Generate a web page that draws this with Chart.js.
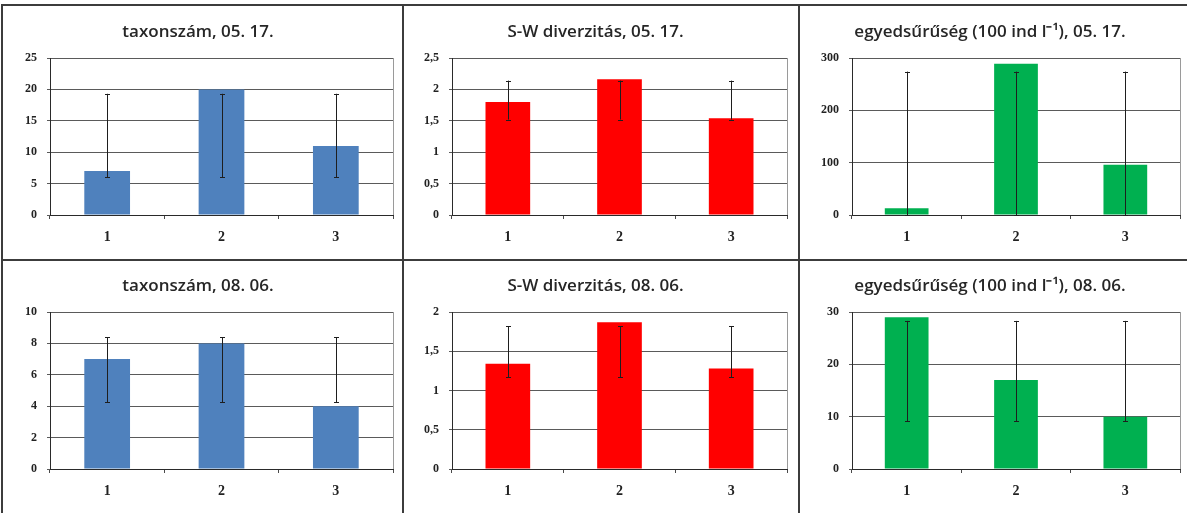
<!DOCTYPE html>
<html>
<head>
<meta charset="utf-8">
<script src="https://cdn.jsdelivr.net/npm/chart.js@4.4.1/dist/chart.umd.min.js"></script>
<style>
  html, body { margin: 0; padding: 0; background: #fff; }
  #page { position: relative; width: 1187px; height: 513px; overflow: hidden; }
  .cell { position: absolute; }
  .line { position: absolute; background: #3c3c3c; }
</style>
</head>
<body>
<div id="page">
  <canvas id="c1" class="cell" width="399" height="253" style="left:3px;top:6px"></canvas>
  <canvas id="c2" class="cell" width="394" height="253" style="left:404px;top:6px"></canvas>
  <canvas id="c3" class="cell" width="387" height="253" style="left:800px;top:6px"></canvas>
  <canvas id="c4" class="cell" width="399" height="252" style="left:3px;top:261px"></canvas>
  <canvas id="c5" class="cell" width="394" height="252" style="left:404px;top:261px"></canvas>
  <canvas id="c6" class="cell" width="387" height="252" style="left:800px;top:261px"></canvas>

  <!-- table frame -->
  <div class="line" style="left:1px;top:4px;width:1186px;height:2px"></div>
  <div class="line" style="left:1px;top:4px;width:2px;height:509px"></div>
  <div class="line" style="left:402px;top:4px;width:2px;height:509px"></div>
  <div class="line" style="left:798px;top:4px;width:2px;height:509px"></div>
  <div class="line" style="left:1px;top:259px;width:1186px;height:2px"></div>
</div>

<script>
const categories = ["1", "2", "3"];

// taxonszám
const taxon0517 = [7, 20, 11];
const taxon0517Low = [6.0, 6.0, 6.0];
const taxon0517High = [19.3, 19.3, 19.3];
const taxon0517Ticks = ["0", "5", "10", "15", "20", "25"];

const taxon0806 = [7, 8, 4];
const taxon0806Low = [4.25, 4.25, 4.25];
const taxon0806High = [8.4, 8.4, 8.4];
const taxon0806Ticks = ["0", "2", "4", "6", "8", "10"];

// S-W diverzitás
const sw0517 = [1.8, 2.16, 1.54];
const sw0517Low = [1.52, 1.52, 1.52];
const sw0517High = [2.14, 2.14, 2.14];
const sw0517Ticks = ["0", "0,5", "1", "1,5", "2", "2,5"];

const sw0806 = [1.34, 1.87, 1.28];
const sw0806Low = [1.17, 1.17, 1.17];
const sw0806High = [1.82, 1.82, 1.82];
const sw0806Ticks = ["0", "0,5", "1", "1,5", "2"];

// egyedsűrűség
const dens0517 = [13, 289, 96];
const dens0517Low = [0, 0, 0];
const dens0517High = [274, 274, 274];
const dens0517Ticks = ["0", "100", "200", "300"];

const dens0806 = [29, 17, 10];
const dens0806Low = [9.1, 9.1, 9.1];
const dens0806High = [28.3, 28.3, 28.3];
const dens0806Ticks = ["0", "10", "20", "30"];

const BLUE = "#4f81bd";
const RED = "#ff0000";
const GREEN = "#00b050";

const TITLE_SIZE = 17;

// light frame round the plot area
const plotFrame = {
  id: "plotFrame",
  beforeDraw(chart) {
    const { ctx, chartArea: a } = chart;
    ctx.save();
    ctx.strokeStyle = "#9a9a9a";
    ctx.lineWidth = 1;
    ctx.strokeRect(Math.round(a.left) + 0.5, Math.round(a.top) + 0.5, Math.round(a.right - a.left), Math.round(a.bottom - a.top));
    ctx.restore();
  },
};

// error bars from the low/high arrays
const errorBars = {
  id: "errorBars",
  afterDatasetsDraw(chart, args, opts) {
    const { ctx, scales } = chart;
    const meta = chart.getDatasetMeta(0);
    ctx.save();
    ctx.strokeStyle = "#1e1e1e";
    ctx.lineWidth = 1;
    meta.data.forEach((bar, i) => {
      const x = Math.round(bar.x) + 0.5;
      const y1 = Math.min(scales.y.getPixelForValue(opts.low[i]), chart.chartArea.bottom);
      const y2 = scales.y.getPixelForValue(opts.high[i]);
      ctx.beginPath();
      ctx.moveTo(x, y1);
      ctx.lineTo(x, y2);
      ctx.moveTo(x - 2.5, Math.round(y2) + 0.5);
      ctx.lineTo(x + 2.5, Math.round(y2) + 0.5);
      ctx.moveTo(x - 2.5, Math.round(y1) + 0.5);
      ctx.lineTo(x + 2.5, Math.round(y1) + 0.5);
      ctx.stroke();
    });
    ctx.restore();
  },
};

function makePanel(id, title, values, low, high, ticks, max, step, color, inset) {
  const tickFont = { family: "'Liberation Serif', 'Times New Roman', serif", weight: "bold" };
  const lineBox = TITLE_SIZE * 1.2;
  const titleTop = inset.titleMid - lineBox / 2;
  new Chart(document.getElementById(id), {
    type: "bar",
    data: {
      labels: categories,
      datasets: [
        {
          data: values,
          backgroundColor: color,
          borderWidth: 0,
          categoryPercentage: 1,
          barPercentage: 0.4,
        },
      ],
    },
    options: {
      responsive: false,
      animation: false,
      layout: { padding: { left: 0, right: inset.right, top: 0, bottom: 0 } },
      plugins: {
        legend: { display: false },
        tooltip: { enabled: false },
        title: {
          display: true,
          text: title,
          color: "#262626",
          font: { family: "'Open Sans', sans-serif", size: TITLE_SIZE, weight: "600", lineHeight: 1.2 },
          padding: { top: titleTop, bottom: inset.top - titleTop - lineBox },
        },
        errorBars: { low, high },
      },
      scales: {
        x: {
          grid: { display: true, offset: true, drawOnChartArea: false, drawTicks: true, tickLength: 4, color: "#4a4a4a" },
          border: { color: "#2a2a2a", width: 1 },
          ticks: { color: "#222", padding: 10, font: { ...tickFont, size: 14 } },
          afterFit: (scale) => { scale.height = inset.bottom; },
        },
        y: {
          min: 0,
          max: max,
          grid: { color: "#5a5a5a", lineWidth: 1, drawTicks: true, tickLength: 3 },
          border: { color: "#2a2a2a", width: 1 },
          ticks: {
            stepSize: step,
            color: "#222",
            padding: 10,
            font: { ...tickFont, size: 12 },
            callback: (v, i) => ticks[i],
          },
          afterFit: (scale) => { scale.width = inset.left; },
        },
      },
    },
    plugins: [plotFrame, errorBars],
  });
}

const row1 = { top: 52, bottom: 44, titleMid: 26 };
const row2 = { top: 51, bottom: 44, titleMid: 25 };
const col1 = { left: 47, right: 9 };
const col2 = { left: 48, right: 11 };
const col3 = { left: 52, right: 7 };

makePanel("c1", "taxonszám, 05. 17.", taxon0517, taxon0517Low, taxon0517High, taxon0517Ticks, 25, 5, BLUE, { ...row1, ...col1 });
makePanel("c2", "S-W diverzitás, 05. 17.", sw0517, sw0517Low, sw0517High, sw0517Ticks, 2.5, 0.5, RED, { ...row1, ...col2 });
makePanel("c3", "egyedsűrűség (100 ind l⁻¹), 05. 17.", dens0517, dens0517Low, dens0517High, dens0517Ticks, 300, 100, GREEN, { ...row1, ...col3 });
makePanel("c4", "taxonszám, 08. 06.", taxon0806, taxon0806Low, taxon0806High, taxon0806Ticks, 10, 2, BLUE, { ...row2, ...col1 });
makePanel("c5", "S-W diverzitás, 08. 06.", sw0806, sw0806Low, sw0806High, sw0806Ticks, 2, 0.5, RED, { ...row2, ...col2 });
makePanel("c6", "egyedsűrűség (100 ind l⁻¹), 08. 06.", dens0806, dens0806Low, dens0806High, dens0806Ticks, 30, 10, GREEN, { ...row2, ...col3 });
</script>
</body>
</html>
